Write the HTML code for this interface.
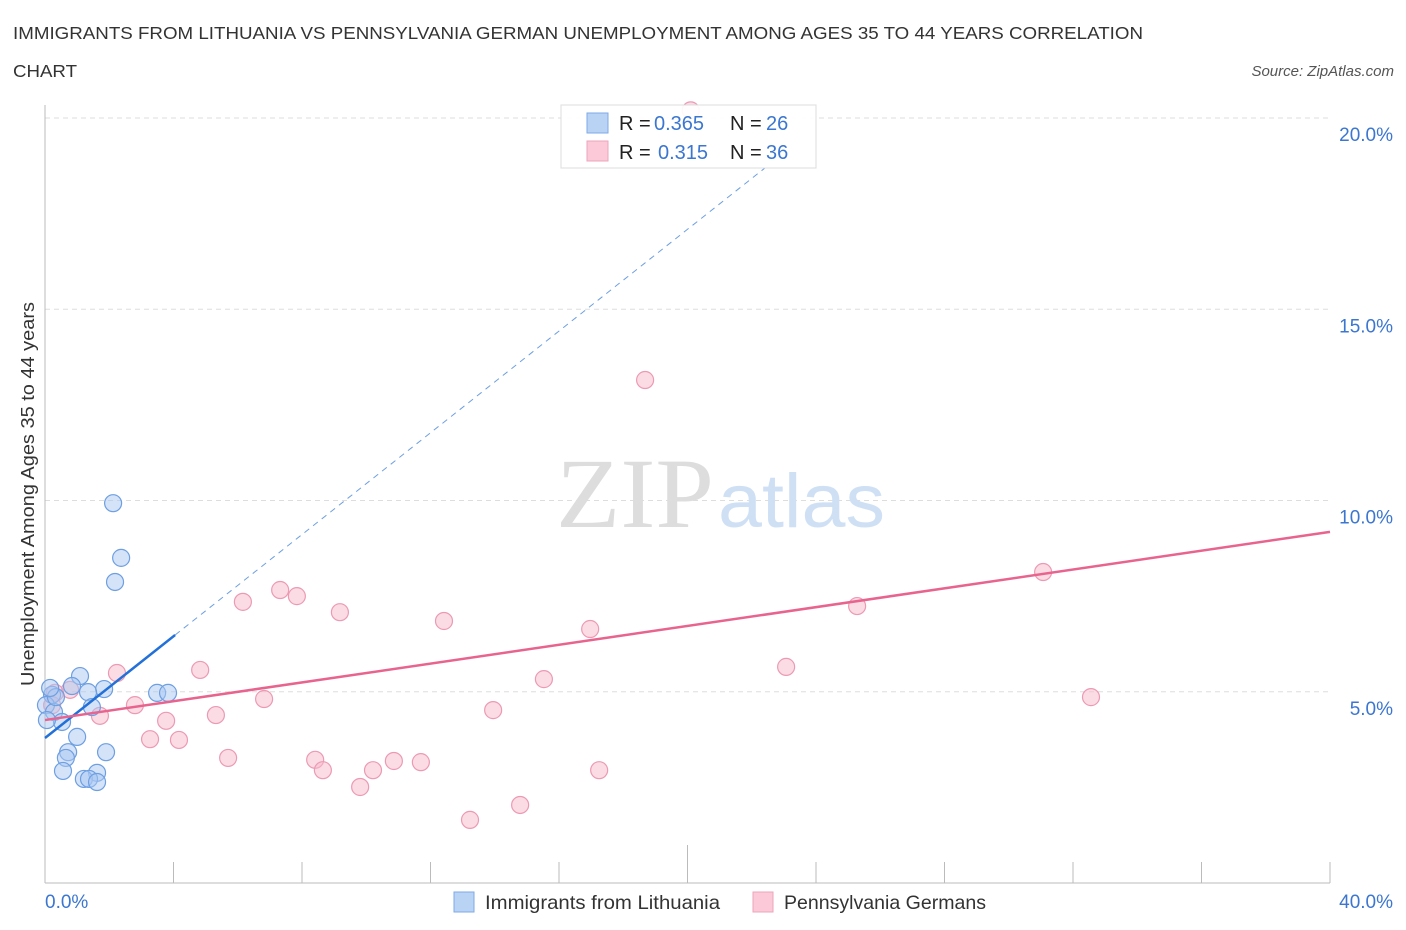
<!DOCTYPE html>
<html><head><meta charset="utf-8"><style>
body{margin:0;background:#fff;font-family:"Liberation Sans",sans-serif}
svg{display:block}
</style></head><body>
<svg id="chart" width="1406" height="930">
<text x="13" y="39" font-size="17.5" fill="#333" textLength="1130" lengthAdjust="spacingAndGlyphs">IMMIGRANTS FROM LITHUANIA VS PENNSYLVANIA GERMAN UNEMPLOYMENT AMONG AGES 35 TO 44 YEARS CORRELATION</text>
<text x="13" y="77" font-size="17.5" fill="#333" textLength="64" lengthAdjust="spacingAndGlyphs">CHART</text>
<text x="1394" y="76" font-size="15" fill="#555" font-style="italic" text-anchor="end">Source: ZipAtlas.com</text>
<g id="grid"></g>
<text x="714" y="527" font-size="100" fill="#ddd" text-anchor="end" font-family="Liberation Serif,serif" textLength="158" lengthAdjust="spacingAndGlyphs">ZIP</text>
<text x="718" y="527" font-size="76" fill="#cfe0f5" textLength="167" lengthAdjust="spacingAndGlyphs">atlas</text>
<g id="marks"></g>
<g id="legendTop">
<rect x="561" y="105" width="255" height="63" fill="#fff" fill-opacity="0.92" stroke="#ddd"/>
<rect x="587" y="113" width="21" height="20" fill="#b9d3f5" stroke="#7fa9e6"/>
<rect x="587" y="141" width="21" height="20" fill="#fbc9d8" stroke="#eea5bd"/>
<g font-size="20" fill="#222">
<text x="619" y="130">R =</text><text x="654" y="130" fill="#3b76d0">0.365</text>
<text x="730" y="130">N =</text><text x="766" y="130" fill="#3b76d0">26</text>
<text x="619" y="159">R =</text><text x="658" y="159" fill="#3b76d0">0.315</text>
<text x="730" y="159">N =</text><text x="766" y="159" fill="#3b76d0">36</text>
</g>
</g>
<g>
<rect x="454" y="892" width="20" height="20" fill="#b9d3f5" stroke="#7fa9e6"/>
<text x="485" y="909" font-size="19.5" fill="#333" textLength="235" lengthAdjust="spacingAndGlyphs">Immigrants from Lithuania</text>
<rect x="753" y="892" width="20" height="20" fill="#fbc9d8" stroke="#eea5bd"/>
<text x="784" y="909" font-size="19.5" fill="#333" textLength="202" lengthAdjust="spacingAndGlyphs">Pennsylvania Germans</text>
</g>
<text transform="translate(34,494) rotate(-90)" font-size="18.5" fill="#333" text-anchor="middle" textLength="384" lengthAdjust="spacingAndGlyphs">Unemployment Among Ages 35 to 44 years</text>
</svg>
<script>
const yTicks=[5,10,15,20];
const yTickLabels=["5.0%","10.0%","15.0%","20.0%"];
const xTickLabels=["0.0%","40.0%"];
const blueX=[2.12,2.37,2.18,1.09,0.84,1.84,1.34,3.49,3.83,0.22,0.03,0.28,0.53,0.06,1.46,1.00,0.72,0.65,1.90,0.56,1.62,1.21,1.37,1.62,0.34,0.16];
const blueY=[9.93,8.50,7.87,5.41,5.15,5.07,4.99,4.97,4.97,4.92,4.65,4.47,4.21,4.26,4.60,3.82,3.42,3.27,3.42,2.93,2.88,2.72,2.72,2.64,4.86,5.10];
const pinkX=[18.68,31.07,25.28,7.32,7.84,6.16,9.18,12.42,16.97,23.07,4.83,2.24,15.53,32.56,6.82,2.80,5.32,13.95,3.77,1.71,3.27,4.17,5.70,8.41,8.65,10.21,10.86,11.70,17.25,9.81,14.79,13.23,0.78,0.31,0.22,20.1];
const pinkY=[13.15,8.13,7.24,7.66,7.50,7.35,7.08,6.85,6.64,5.65,5.57,5.49,5.33,4.86,4.81,4.65,4.39,4.52,4.24,4.37,3.76,3.74,3.27,3.22,2.95,2.95,3.19,3.16,2.95,2.51,2.04,1.65,5.05,4.97,4.65,20.2];
const blueTrend=[3.79,0.665]; // intercept, slope
const pinkTrend=[4.26,0.123];
const NS='http://www.w3.org/2000/svg';
const X=v=>45+v/40*1285, Y=v=>883-v/20*765;
function mk(t,a,p){const e=document.createElementNS(NS,t);for(const k in a)e.setAttribute(k,a[k]);p.appendChild(e);return e;}
const g=document.getElementById('grid'), m=document.getElementById('marks');
yTicks.forEach((t,i)=>{
 const l=mk('line',{x1:45,x2:1330,y1:Y(t),y2:Y(t),stroke:'#ddd','stroke-dasharray':'5,4'},g);
 
 
 const tx=mk('text',{x:1393,y:Y(t)+23,'font-size':19,fill:'#3b76d0','text-anchor':'end'},g);
 tx.textContent=yTickLabels[i];
 
 
});
const ax=mk('line',{x1:45,x2:45,y1:105,y2:883,stroke:'#bbb'},g);


const bx=mk('line',{x1:45,x2:1330,y1:883,y2:883,stroke:'#bbb'},g);


for(let i=0;i<=10;i++){
 const t=mk('line',{x1:X(i*4),x2:X(i*4),y1:i==5?845:862,y2:883,stroke:'#bbb'},g);
 
 
}
[[0,'start',45],[40,'end',1393]].forEach((d,i)=>{
 const t=mk('text',{x:d[2],y:908,'font-size':19,fill:'#3b76d0','text-anchor':d[1]},g);
 t.textContent=xTickLabels[i];
 
 
});
pinkX.forEach((x,i)=>{
 const c=mk('circle',{cx:X(x),cy:Y(pinkY[i]),r:8.5,fill:'#f7b9cc','fill-opacity':0.5,stroke:'#ec9ab4','stroke-width':1.2},m);
 
 
});
blueX.forEach((x,i)=>{
 const c=mk('circle',{cx:X(x),cy:Y(blueY[i]),r:8.5,fill:'#a9c8f1','fill-opacity':0.5,stroke:'#6d9fe2','stroke-width':1.2},m);
 
 
});
const yEnd=18.7;
const xEndB=(yEnd-blueTrend[0])/blueTrend[1];
const bd=mk('line',{x1:X(4.05),y1:Y(blueTrend[0]+blueTrend[1]*4.05),x2:X(xEndB),y2:Y(yEnd),stroke:'#6d9fe2','stroke-width':1,'stroke-dasharray':'6,5'},m);


const bs=mk('line',{x1:X(0),y1:Y(blueTrend[0]),x2:X(4.05),y2:Y(blueTrend[0]+blueTrend[1]*4.05),stroke:'#2270d8','stroke-width':2.5},m);


const ps=mk('line',{x1:X(0),y1:Y(pinkTrend[0]),x2:X(40),y2:Y(pinkTrend[0]+pinkTrend[1]*40),stroke:'#e8648f','stroke-width':2.5},m);


</script>
</body></html>
